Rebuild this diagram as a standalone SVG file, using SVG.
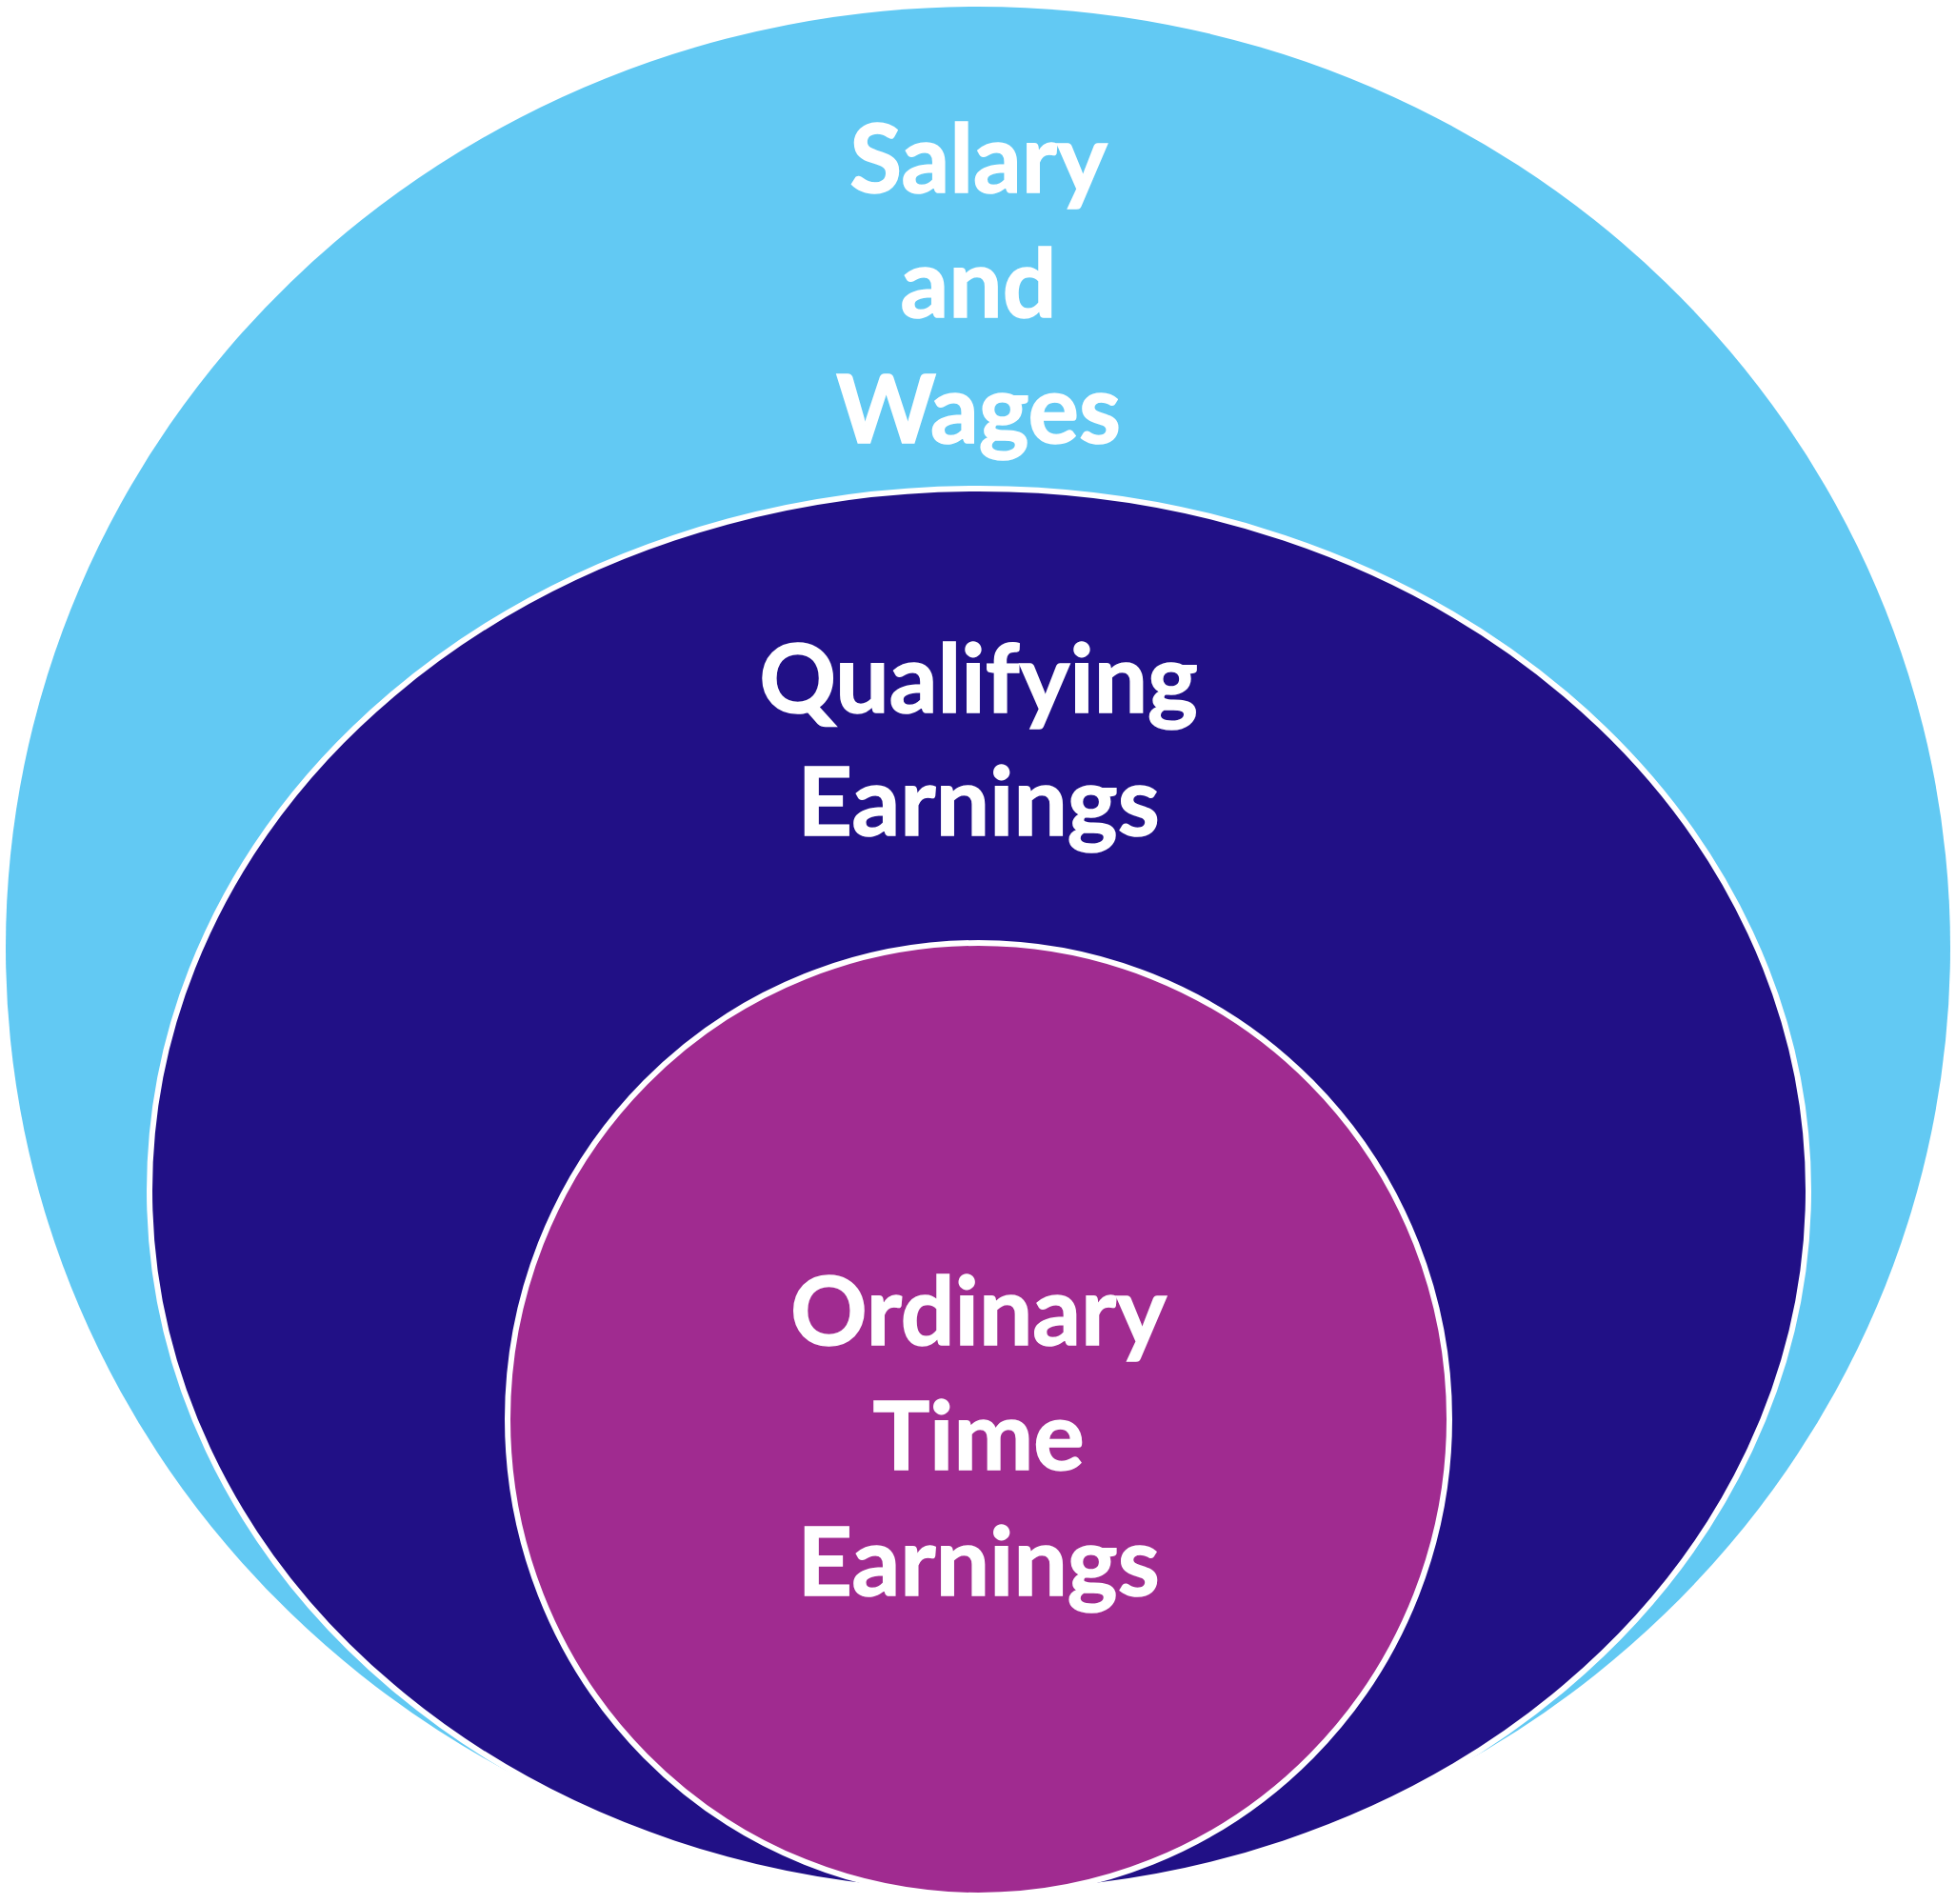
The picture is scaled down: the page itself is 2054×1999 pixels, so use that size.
<svg xmlns="http://www.w3.org/2000/svg" width="2054" height="1999" viewBox="0 0 2054 1999">
<style>
.lbl{font-family:Lato,"Open Sans","Liberation Sans",sans-serif;font-weight:700;font-size:100px;fill:#ffffff;stroke:#ffffff;stroke-width:1.5;text-anchor:middle}
.ring{stroke:#ffffff;stroke-width:6}
</style>
<rect x="0" y="0" width="2054" height="1999" fill="#ffffff"/>
<g id="salary-and-wages">
<ellipse cx="1027" cy="995" rx="1021" ry="988" fill="#62C9F3"/>
<text class="lbl" x="1027.5" y="202">Salary</text>
<text class="lbl" x="1027.5" y="333">and</text>
<text class="lbl" x="1027.5" y="465">Wages</text>
</g>
<g id="qualifying-earnings">
<ellipse class="ring" cx="1028" cy="1250" rx="871" ry="737" fill="#211086"/>
<text class="lbl" x="1027.5" y="748">Qualifying</text>
<text class="lbl" x="1027.5" y="877">Earnings</text>
</g>
<g id="ordinary-time-earnings">
<ellipse class="ring" cx="1027.5" cy="1490" rx="494.5" ry="500" fill="#A02B90"/>
<text class="lbl" x="1027.5" y="1412">Ordinary</text>
<text class="lbl" x="1027.5" y="1543">Time</text>
<text class="lbl" x="1027.5" y="1675">Earnings</text>
</g>
<g id="connectors"/>
</svg>
